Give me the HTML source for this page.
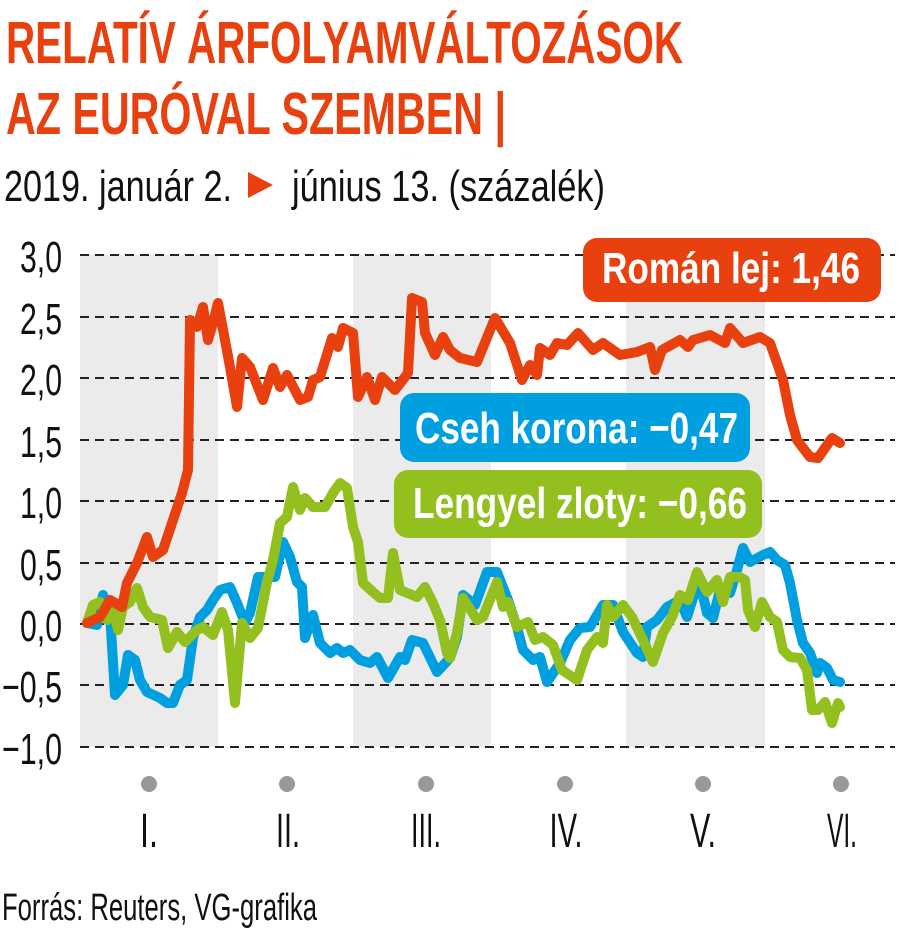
<!DOCTYPE html>
<html><head><meta charset="utf-8"><style>
html,body{margin:0;padding:0;background:#fff;}
svg{display:block;}
text{font-family:"Liberation Sans",sans-serif;}
</style></head><body>
<svg width="900" height="931" viewBox="0 0 900 931" xmlns="http://www.w3.org/2000/svg">
<text x="6" y="63" font-size="59" font-weight="bold" fill="#e8400f" textLength="677" lengthAdjust="spacingAndGlyphs">RELATÍV ÁRFOLYAMVÁLTOZÁSOK</text>
<text x="6" y="134" font-size="59" font-weight="bold" fill="#e8400f" textLength="500" lengthAdjust="spacingAndGlyphs">AZ EURÓVAL SZEMBEN |</text>
<text x="4" y="201" font-size="44" fill="#111" textLength="228" lengthAdjust="spacingAndGlyphs">2019. január 2.</text>
<polygon points="248,172 248,198 273,185" fill="#e8400f"/>
<text x="292" y="201" font-size="44" fill="#111" textLength="313" lengthAdjust="spacingAndGlyphs">június 13. (százalék)</text>

<rect x="80" y="255" width="138" height="492" fill="#ebebeb"/>
<rect x="353" y="255" width="138" height="492" fill="#ebebeb"/>
<rect x="626" y="255" width="139" height="492" fill="#ebebeb"/>
<g stroke="#222" stroke-width="2" stroke-dasharray="9,6">
<line x1="80" y1="255" x2="895" y2="255"/><line x1="80" y1="317" x2="895" y2="317"/>
<line x1="80" y1="378" x2="895" y2="378"/><line x1="80" y1="440" x2="895" y2="440"/>
<line x1="80" y1="501" x2="895" y2="501"/><line x1="80" y1="563" x2="895" y2="563"/>
<line x1="80" y1="624" x2="895" y2="624"/><line x1="80" y1="685" x2="895" y2="685"/>
<line x1="80" y1="747" x2="895" y2="747"/>
</g>
<g font-size="44" fill="#111" text-anchor="end">
<text x="62" y="272" textLength="42" lengthAdjust="spacingAndGlyphs">3,0</text>
<text x="62" y="334" textLength="42" lengthAdjust="spacingAndGlyphs">2,5</text>
<text x="62" y="395" textLength="42" lengthAdjust="spacingAndGlyphs">2,0</text>
<text x="62" y="457" textLength="42" lengthAdjust="spacingAndGlyphs">1,5</text>
<text x="62" y="518" textLength="42" lengthAdjust="spacingAndGlyphs">1,0</text>
<text x="62" y="580" textLength="42" lengthAdjust="spacingAndGlyphs">0,5</text>
<text x="62" y="641" textLength="42" lengthAdjust="spacingAndGlyphs">0,0</text>
<text x="62" y="702" textLength="60" lengthAdjust="spacingAndGlyphs">−0,5</text>
<text x="62" y="764" textLength="60" lengthAdjust="spacingAndGlyphs">−1,0</text>
</g>
<g fill="none" stroke-width="10" stroke-linejoin="round" stroke-linecap="round">
<polyline stroke="#009fe0" points="87,623 97,625 103,595 110,613 115,695 123,685 128,655 135,660 140,680 147,692 160,698 167,703 173,703 180,685 187,680 193,638 200,617 207,610 213,600 220,590 230,587 237,603 245,623 250,613 258,577 267,577 275,577 283,542 290,557 297,582 302,587 305,638 313,615 320,643 330,653 337,648 343,653 350,650 360,660 370,663 377,657 388,678 400,657 405,660 412,640 423,643 437,672 450,658 457,637 463,595 475,605 487,572 497,572 508,600 517,627 523,650 533,660 540,657 547,682 560,663 570,640 580,628 590,627 603,605 613,605 623,632 637,653 643,657 647,627 657,620 667,607 680,600 687,617 693,598 700,583 707,613 713,618 720,590 730,593 737,570 743,548 750,562 763,555 770,552 777,560 785,565 790,583 797,620 803,643 810,653 817,673 820,663 827,668 833,680 840,682"/>
<polyline stroke="#93c01f" points="87,623 93,605 100,602 107,620 113,608 118,630 123,607 130,602 137,588 143,607 150,617 162,620 168,648 177,632 185,642 197,630 203,627 213,635 222,612 228,630 235,703 242,623 250,638 258,628 267,582 273,560 280,523 287,517 293,487 300,510 305,498 313,507 325,507 333,493 340,483 347,488 353,527 358,542 363,583 373,592 380,598 388,598 393,553 400,590 417,597 425,587 433,603 440,620 447,653 450,658 457,633 463,598 477,620 483,617 497,582 503,607 508,602 517,627 528,622 535,640 543,637 553,645 562,670 577,680 587,650 597,637 603,643 607,605 613,617 623,605 632,617 643,640 653,662 663,633 672,617 680,595 688,600 697,572 707,592 717,580 723,602 730,577 740,577 745,580 748,610 755,627 762,602 770,617 777,622 783,650 790,657 800,658 807,670 812,710 818,710 825,702 832,723 838,703 840,707"/>
<polyline stroke="#e8400f" points="87,623 100,617 110,600 122,607 127,583 137,563 147,537 153,557 163,550 173,520 182,493 188,470 190,320 197,327 203,307 208,340 213,323 218,303 230,367 237,407 242,358 250,367 263,400 273,368 280,387 287,375 300,400 308,397 313,380 320,377 332,338 338,347 343,328 353,333 358,397 367,377 375,400 382,377 395,390 408,373 412,298 422,302 425,333 435,355 443,337 450,350 460,358 477,362 495,318 510,343 522,380 530,365 537,375 540,348 550,355 557,343 567,345 578,333 593,350 603,343 620,355 637,352 650,347 655,370 662,350 680,340 688,347 693,340 710,335 725,343 730,328 743,343 760,337 770,343 783,380 790,415 797,440 803,448 810,457 818,458 832,438 840,443"/>
</g>
<rect x="583" y="238" width="298" height="64" rx="14" fill="#e8400f"/>
<text x="602" y="283" font-size="44" font-weight="bold" fill="#fff" textLength="258" lengthAdjust="spacingAndGlyphs">Román lej: 1,46</text>
<rect x="400" y="393" width="350" height="69" rx="14" fill="#009fe0"/>
<text x="415" y="443" font-size="44" font-weight="bold" fill="#fff" textLength="323" lengthAdjust="spacingAndGlyphs">Cseh korona: −0,47</text>
<rect x="394" y="470" width="368" height="68" rx="14" fill="#93c01f"/>
<text x="413" y="518" font-size="44" font-weight="bold" fill="#fff" textLength="334" lengthAdjust="spacingAndGlyphs">Lengyel zloty: −0,66</text>

<g fill="#999">
<circle cx="149" cy="784" r="8"/><circle cx="287" cy="784" r="8"/><circle cx="426" cy="784" r="8"/>
<circle cx="565" cy="784" r="8"/><circle cx="703" cy="784" r="8"/><circle cx="841" cy="784" r="8"/>
</g>
<g font-size="48" fill="#111" text-anchor="middle">
<text x="149" y="847" textLength="18" lengthAdjust="spacingAndGlyphs">I.</text>
<text x="288" y="847" textLength="24" lengthAdjust="spacingAndGlyphs">II.</text>
<text x="426" y="847" textLength="30" lengthAdjust="spacingAndGlyphs">III.</text>
<text x="566" y="847" textLength="33" lengthAdjust="spacingAndGlyphs">IV.</text>
<text x="703" y="847" textLength="26" lengthAdjust="spacingAndGlyphs">V.</text>
<text x="842" y="847" textLength="30" lengthAdjust="spacingAndGlyphs">VI.</text>
</g>
<text x="2" y="920" font-size="38" fill="#111" textLength="315" lengthAdjust="spacingAndGlyphs">Forrás: Reuters, VG-grafika</text>
</svg>
</body></html>
